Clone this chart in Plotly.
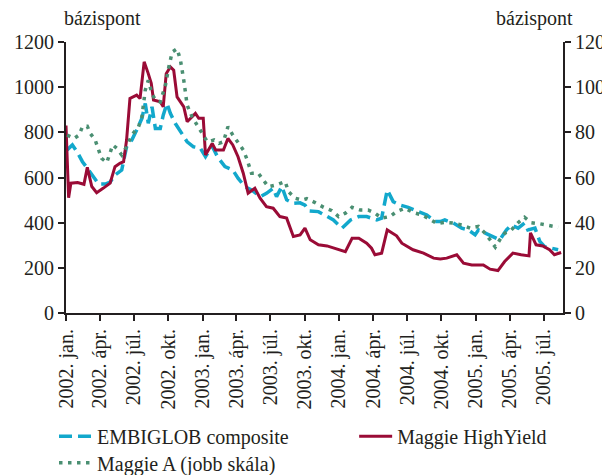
import plotly.graph_objects as go

# ---- data ----
hy_dates = ["2002-01-01","2002-01-08","2002-01-14","2002-02-01","2002-02-18","2002-02-27","2002-03-11","2002-03-24",
            "2002-04-11","2002-04-29","2002-05-12","2002-05-25","2002-06-04","2002-06-12","2002-06-21","2002-07-09",
            "2002-07-18","2002-07-29","2002-08-09","2002-08-17","2002-08-23","2002-09-10","2002-09-18","2002-09-26",
            "2002-10-07","2002-10-16","2002-10-25","2002-11-12","2002-11-21","2002-12-13","2002-12-22","2003-01-03",
            "2003-01-09","2003-01-27","2003-02-05","2003-02-26","2003-03-10","2003-03-23","2003-04-06","2003-04-20",
            "2003-05-03","2003-05-21","2003-06-04","2003-06-21","2003-07-09","2003-07-27","2003-08-14","2003-09-01",
            "2003-09-19","2003-10-02","2003-10-16","2003-11-07","2003-11-30","2003-12-26","2004-01-18","2004-02-05",
            "2004-02-23","2004-03-15","2004-03-28","2004-04-06","2004-04-24","2004-05-09","2004-06-03","2004-06-17",
            "2004-07-17","2004-08-14","2004-09-10","2004-09-28","2004-10-15","2004-11-11","2004-11-29","2004-12-21",
            "2005-01-21","2005-02-08","2005-03-01","2005-03-19","2005-04-10","2005-05-02","2005-05-23","2005-05-27",
            "2005-06-11","2005-06-29","2005-07-17","2005-07-30","2005-08-17"]
hy_values = [830, 510, 575, 578, 570, 645, 560, 533,
             553, 575, 648, 663, 670, 766, 950, 965,
             950, 1112, 1060, 1017, 943, 935, 913, 1060,
             1090, 1075, 957, 913, 847, 884, 862, 862,
             700, 751, 722, 722, 773, 744, 692, 619,
             530, 552, 508, 471, 464, 427, 420, 339,
             346, 376, 324, 302, 297, 283, 272, 331,
             331, 309, 287, 258, 265, 368, 342, 309,
             280, 265, 243, 239, 243, 258, 221, 213,
             213, 194, 188, 228, 265, 258, 253, 355,
             302, 297, 280, 258, 268]

embi_dates = ["2002-01-04","2002-01-18","2002-02-01","2002-02-14","2002-02-27","2002-03-15","2002-03-29","2002-04-16",
              "2002-04-29","2002-05-12","2002-05-30","2002-06-12","2002-06-26","2002-07-09","2002-07-23","2002-08-01",
              "2002-08-09","2002-08-19","2002-08-28","2002-09-10","2002-09-18","2002-09-28","2002-10-07","2002-10-20",
              "2002-11-05","2002-11-21","2002-12-08","2002-12-26","2003-01-09","2003-01-27","2003-02-10","2003-03-02",
              "2003-03-23","2003-04-06","2003-04-24","2003-05-12","2003-06-04","2003-06-21","2003-07-09","2003-07-18",
              "2003-08-01","2003-08-14","2003-09-01","2003-09-19","2003-10-02","2003-10-13","2003-11-07","2003-11-25",
              "2003-12-17","2004-01-09","2004-02-01","2004-02-23","2004-03-15","2004-04-11","2004-04-24","2004-05-09",
              "2004-05-25","2004-06-12","2004-07-04","2004-07-31","2004-08-23","2004-09-14","2004-09-28","2004-10-10",
              "2004-11-02","2004-11-24","2004-12-12","2004-12-30","2005-01-08","2005-01-26","2005-02-13","2005-03-06",
              "2005-03-24","2005-04-06","2005-04-24","2005-05-11","2005-05-20","2005-06-08","2005-06-21","2005-07-04",
              "2005-07-22","2005-08-09"]
embi_values = [722, 744, 710, 670, 641, 604, 571, 571,
               580, 611, 633, 736, 766, 810, 862, 928,
               840, 913, 817, 817, 876, 928, 884, 840,
               800, 758, 736, 730, 692, 739, 692, 648,
               633, 597, 560, 545, 515, 530, 552, 515,
               560, 501, 486, 488, 478, 452, 449, 434,
               412, 376, 412, 427, 427, 412, 420, 545,
               493, 478, 468, 449, 434, 405, 405, 412,
               398, 376, 368, 346, 368, 354, 339, 324,
               368, 390, 376, 398, 368, 376, 317, 294,
               287, 280]

ma_dates = ["2002-01-04","2002-01-23","2002-02-05","2002-02-14","2002-02-27","2002-03-07","2002-03-20","2002-03-28",
            "2002-04-06","2002-04-20","2002-04-29","2002-05-06","2002-05-17","2002-05-30","2002-06-12","2002-06-26",
            "2002-07-14","2002-07-23","2002-08-01","2002-08-09","2002-08-19","2002-08-28","2002-09-10","2002-09-24",
            "2002-10-03","2002-10-12","2002-10-25","2002-11-03","2002-11-12","2002-11-21","2002-12-04","2002-12-18",
            "2002-12-31","2003-01-14","2003-02-01","2003-02-14","2003-02-26","2003-03-10","2003-03-23","2003-04-06",
            "2003-04-20","2003-04-29","2003-05-12","2003-05-30","2003-06-12","2003-06-26","2003-07-18","2003-08-10",
            "2003-08-19","2003-09-06","2003-09-24","2003-10-07","2003-10-29","2003-11-21","2003-12-13","2003-12-31",
            "2004-01-18","2004-02-05","2004-02-27","2004-03-19","2004-04-06","2004-04-24","2004-05-16","2004-06-03",
            "2004-06-26","2004-07-17","2004-08-10","2004-09-01","2004-09-20","2004-10-10","2004-11-02","2004-11-24",
            "2004-12-17","2005-01-08","2005-01-26","2005-02-08","2005-02-22","2005-03-06","2005-03-19","2005-04-06",
            "2005-04-24","2005-05-11","2005-05-29","2005-06-21","2005-07-13","2005-08-09"]
ma_values = [78.8, 77.3, 78.8, 82.5, 82.7, 79.5, 76.6, 72.9,
             68.5, 66.6, 70.7, 74.4, 72.9, 70.0, 73.6, 78.8,
             82.5, 86.9, 98.7, 103.0, 97.2, 94.3, 93.5, 100.9,
             109.0, 115.6, 117.0, 112.0, 103.0, 92.0, 86.9, 83.2,
             79.5, 75.8, 76.6, 75.1, 75.8, 82.5, 78.8, 75.8,
             72.2, 68.5, 61.9, 61.9, 58.9, 55.9, 56.7, 58.2,
             53.7, 50.8, 50.0, 50.6, 48.9, 46.8, 45.3, 42.7,
             44.2, 46.8, 45.6, 45.6, 44.2, 42.0, 42.7, 44.9,
             46.4, 44.5, 43.4, 41.5, 39.6, 40.1, 39.8, 39.0,
             37.6, 38.3, 35.3, 32.4, 29.2, 32.4, 35.3, 36.8,
             40.0, 42.4, 40.0, 39.5, 39.0, 38.0]

tick_dates = ["2002-01-01","2002-04-01","2002-07-01","2002-10-01","2003-01-01","2003-04-01","2003-07-01","2003-10-01",
              "2004-01-01","2004-04-01","2004-07-01","2004-10-01","2005-01-01","2005-04-01","2005-07-01"]
tick_labels = ["2002. jan.","2002. ápr.","2002. júl.","2002. okt.","2003. jan.","2003. ápr.","2003. júl.","2003. okt.",
               "2004. jan.","2004. ápr.","2004. júl.","2004. okt.","2005. jan.","2005. ápr.","2005. júl."]

FONT = "Liberation Serif, Times New Roman, DejaVu Serif, serif"
TXT = "#231f20"
FS = 20

fig = go.Figure()
fig.add_trace(go.Scatter(x=embi_dates, y=embi_values, mode="lines", name="EMBIGLOB composite", legend="legend",
                         line=dict(color="#12a8cc", width=3.5, dash="13px,6px")))
fig.add_trace(go.Scatter(x=hy_dates, y=hy_values, mode="lines", name="Maggie HighYield", legend="legend2",
                         line=dict(color="#9a0b36", width=3)))
fig.add_trace(go.Scatter(x=ma_dates, y=ma_values, mode="lines", name="Maggie A (jobb skála)", yaxis="y2",
                         legend="legend3",
                         line=dict(color="#4a8f72", width=3.5, dash="3.5px,5.5px")))

leg_common = dict(orientation="h", xref="container", yref="container", xanchor="left", yanchor="middle",
                  font=dict(size=FS, family=FONT, color=TXT), itemwidth=33, bgcolor="rgba(0,0,0,0)")
axis_common = dict(showline=True, linecolor="#231f20", linewidth=2, ticks="outside", ticklen=6,
                   tickwidth=2, tickcolor="#231f20", showgrid=False, zeroline=False, automargin=False,
                   tickfont=dict(size=FS, family=FONT, color=TXT))

fig.update_layout(
    width=602, height=467,
    margin=dict(l=58, r=47, t=34, b=162, autoexpand=False),
    paper_bgcolor="white", plot_bgcolor="white",
    font=dict(family=FONT, size=FS, color=TXT),
    showlegend=True,
    legend=dict(x=0.0764, y=0.083, **leg_common),
    legend2=dict(x=0.575, y=0.083, **leg_common),
    legend3=dict(x=0.0764, y=0.026, **leg_common),
    xaxis=dict(type="date", range=["2002-01-01", "2005-08-22"], tickmode="array",
               tickvals=tick_dates, ticktext=tick_labels, tickangle=-90, **axis_common),
    yaxis=dict(range=[0, 1200], tickvals=[0, 200, 400, 600, 800, 1000, 1200], **axis_common),
    yaxis2=dict(range=[0, 120], tickvals=[0, 20, 40, 60, 80, 100, 120], overlaying="y", side="right",
                **axis_common),
    annotations=[
        dict(text="bázispont", xref="paper", yref="paper", x=-0.008, y=1.085, xanchor="left", yanchor="middle",
             showarrow=False, font=dict(size=FS, family=FONT, color=TXT)),
        dict(text="bázispont", xref="paper", yref="paper", x=1.024, y=1.085, xanchor="right", yanchor="middle",
             showarrow=False, font=dict(size=FS, family=FONT, color=TXT)),
    ],
)

fig.write_html("out.html")
